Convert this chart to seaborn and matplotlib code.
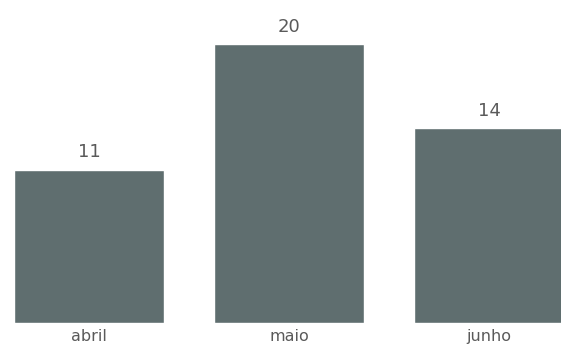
import matplotlib
matplotlib.use("Agg")
import matplotlib.pyplot as plt
import seaborn as sns
import pandas as pd

categories = ["abril", "maio", "junho"]
values = [11, 20, 14]

sns.set_theme(style="white")
plt.rcParams['font.family'] = ['DejaVu Sans']

df = pd.DataFrame({"mes": categories, "valor": values})

fig = plt.figure(figsize=(5.61, 3.54), dpi=100)
ax = fig.add_axes([0, 31/354, 1, 323/354])
sns.barplot(data=df, x="mes", y="valor", color="#5f6e6f", saturation=1,
            width=0.75, ax=ax, errorbar=None)
for c in ax.containers:
    ax.bar_label(c, labels=[str(v) for v in values], padding=6,
                 fontsize=13, color="#5a5a5a")
ax.set_xlim(-0.445, 2.36)
ax.set_ylim(0, 23.19)
ax.set_xlabel("")
ax.set_ylabel("")
ax.set_yticks([])
ax.tick_params(axis="x", length=0, pad=4, labelsize=11.5, labelcolor="#5a5a5a")
for s in ax.spines.values():
    s.set_visible(False)
fig.savefig("out.png", dpi=100)
